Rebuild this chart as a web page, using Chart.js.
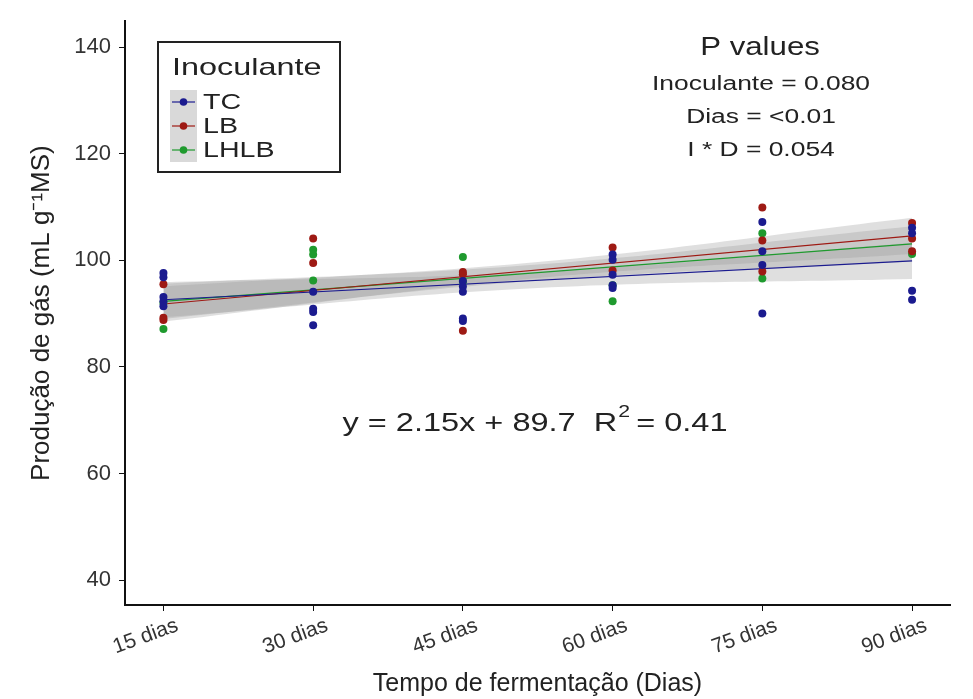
<!DOCTYPE html>
<html>
<head>
<meta charset="utf-8">
<script src="https://cdn.jsdelivr.net/npm/chart.js@4.4.1/dist/chart.umd.min.js"></script>
<style>
  html, body { margin: 0; padding: 0; background: #fff; }
  #wrap { width: 973px; height: 699px; }
</style>
</head>
<body>
<div id="wrap"><canvas id="gasChart" width="973" height="699"></canvas></div>
<script>
// Tempo de fermentacao (dias)
const dias = [15, 30, 45, 60, 75, 90];
const yTicks = [40, 60, 80, 100, 120, 140];

// Observacoes por inoculante (uma lista por dia)
const tcPontos = [[97.6, 96.8, 93.1, 92.3, 91.4], [94.1, 90.9, 90.3, 87.8], [96.1, 95.1, 94.1, 89.1, 88.6],
                  [101.1, 100.1, 97.3, 95.3, 94.8], [107.2, 101.7, 99.1, 90.0], [106.1, 105.1, 94.3, 92.6]];
const lbPontos = [[95.5, 89.2, 88.8], [104.1, 99.5], [97.8, 97.4, 86.8],
                  [102.4, 98.1], [109.9, 103.7, 97.9], [107.0, 104.1, 101.7]];
const lhlbPontos = [[87.1, 92.0], [102.0, 101.1, 96.2], [100.6, 96.0],
                    [95.3, 92.3], [105.1, 96.6], [101.2]];

// Retas ajustadas (inicio e fim) e intervalos de confianca
const retaX = [15, 90];
const tcReta = [92.6, 99.9];
const lbReta = [91.8, 104.6];
const lhlbReta = [92.3, 103.1];

const bandaX = [15, 52.5, 90];
const tcInf = [89.3, 94.8, 96.5], tcSup = [95.9, 97.8, 103.3];
const lbInf = [88.5, 96.7, 101.2], lbSup = [95.1, 99.7, 108.0];
const lhlbInf = [89.0, 96.2, 99.8], lhlbSup = [95.6, 99.2, 106.4];

const series = [
    { nome: 'TC', cor: '#1b1b8f', pontos: tcPontos, reta: tcReta, inf: tcInf, sup: tcSup },
    { nome: 'LB', cor: '#9e1a14', pontos: lbPontos, reta: lbReta, inf: lbInf, sup: lbSup },
    { nome: 'LHLB', cor: '#1f9a2e', pontos: lhlbPontos, reta: lhlbReta, inf: lhlbInf, sup: lhlbSup }
];

const FONT = '"Liberation Sans", Arial, sans-serif';

const datasets = [];
series.forEach(s => {
    // banda: inferior + superior preenchendo ate a anterior
    datasets.push({
        type: 'line', label: s.nome + ' inf',
        data: bandaX.map((x, i) => ({ x: x, y: s.inf[i] })),
        borderWidth: 0, pointRadius: 0, fill: false, tension: 0.4, order: 10
    });
    datasets.push({
        type: 'line', label: s.nome + ' sup',
        data: bandaX.map((x, i) => ({ x: x, y: s.sup[i] })),
        borderWidth: 0, pointRadius: 0, fill: '-1', tension: 0.4,
        backgroundColor: 'rgba(150,150,150,0.3)', order: 10
    });
});
series.forEach(s => {
    datasets.push({
        type: 'line', label: s.nome + ' reta',
        data: retaX.map((x, i) => ({ x: x, y: s.reta[i] })),
        borderColor: s.cor, borderWidth: 1.2, pointRadius: 0, fill: false, order: 5
    });
});
series.forEach(s => {
    const pts = [];
    s.pontos.forEach((lista, i) => lista.forEach(v => pts.push({ x: dias[i], y: v })));
    datasets.push({
        type: 'scatter', label: s.nome, data: pts,
        backgroundColor: s.cor, borderColor: s.cor, pointRadius: 4, borderWidth: 0, order: 1
    });
});

// texto com leve alongamento horizontal, como na figura original
function texto(ctx, str, x, y, size, align, sx) {
    ctx.save();
    ctx.font = size + 'px ' + FONT;
    ctx.textAlign = align;
    ctx.translate(x, y);
    ctx.scale(sx, 1);
    ctx.fillText(str, 0, 0);
    ctx.restore();
}

// legenda e anotacoes desenhadas sobre o grafico
const anotacoes = {
    id: 'anotacoes',
    afterDraw(chart) {
        const ctx = chart.ctx;
        ctx.save();
        // caixa da legenda
        ctx.strokeStyle = '#222';
        ctx.lineWidth = 2;
        ctx.strokeRect(158, 42, 182, 130);
        ctx.fillStyle = '#222';
        ctx.textBaseline = 'middle';
        texto(ctx, 'Inoculante', 172, 68, 24, 'left', 1.35);
        ctx.fillStyle = '#d9d9d9';
        ctx.fillRect(170, 90, 27, 72);
        series.forEach((s, i) => {
            const y = 102 + i * 24;
            ctx.strokeStyle = s.cor;
            ctx.lineWidth = 1.2;
            ctx.beginPath(); ctx.moveTo(172, y); ctx.lineTo(195, y); ctx.stroke();
            ctx.fillStyle = s.cor;
            ctx.beginPath(); ctx.arc(183.5, y, 3.8, 0, Math.PI * 2); ctx.fill();
            ctx.fillStyle = '#222';
            texto(ctx, s.nome, 203, y + 1, 22, 'left', 1.3);
        });
        // P values
        ctx.fillStyle = '#222';
        texto(ctx, 'P values', 760, 48, 26, 'center', 1.2);
        texto(ctx, 'Inoculante = 0.080', 761, 84, 20, 'center', 1.32);
        texto(ctx, 'Dias = <0.01', 761, 117, 20, 'center', 1.32);
        texto(ctx, 'I * D = 0.054', 761, 150, 20, 'center', 1.32);
        // equacao
        const sx = 1.25;
        ctx.font = '26px ' + FONT;
        const eq = 'y = 2.15x + 89.7  R';
        const w1 = ctx.measureText(eq).width * sx;
        const w2 = ctx.measureText(' = 0.41').width * sx;
        const x0 = 535 - (w1 + w2 + 10) / 2;
        texto(ctx, eq, x0, 424, 26, 'left', sx);
        texto(ctx, '2', x0 + w1 + 1, 412, 17, 'left', sx);
        texto(ctx, ' = 0.41', x0 + w1 + 10, 424, 26, 'left', sx);
        ctx.restore();
    }
};

new Chart(document.getElementById('gasChart').getContext('2d'), {
    type: 'scatter',
    data: { datasets: datasets },
    options: {
        responsive: false,
        animation: false,
        layout: { padding: { top: 16, right: 23, left: 0, bottom: 0 } },
        plugins: { legend: { display: false }, tooltip: { enabled: false } },
        scales: {
            x: {
                type: 'linear', min: 11.15, max: 93.8,
                afterBuildTicks: axis => { axis.ticks = dias.map(v => ({ value: v })); },
                afterFit: axis => { axis.height = 94; },
                border: { display: true, color: '#111', width: 2 },
                grid: { drawOnChartArea: false, drawTicks: true, tickLength: 6, color: '#111' },
                ticks: {
                    minRotation: 20, maxRotation: 20, padding: 2, labelOffset: 14,
                    color: '#333', font: { family: FONT, size: 21 },
                    callback: v => v + ' dias'
                },
                title: {
                    display: true, text: 'Tempo de fermentação (Dias)',
                    color: '#222', font: { family: FONT, size: 25 }, padding: { top: 0, bottom: 0 }
                }
            },
            y: {
                type: 'linear', min: 35.32, max: 144.87,
                afterBuildTicks: axis => { axis.ticks = yTicks.map(v => ({ value: v })); },
                afterFit: axis => { axis.width = 125; },
                border: { display: true, color: '#111', width: 2 },
                grid: { drawOnChartArea: false, drawTicks: true, tickLength: 6, color: '#111' },
                ticks: { padding: 8, color: '#333', font: { family: FONT, size: 22 } },
                title: {
                    display: true, text: 'Produção de gás (mL g⁻¹MS)',
                    color: '#222', font: { family: FONT, size: 26 }, padding: { top: 26, bottom: 0 }
                }
            }
        }
    },
    plugins: [anotacoes]
});
</script>
</body>
</html>
